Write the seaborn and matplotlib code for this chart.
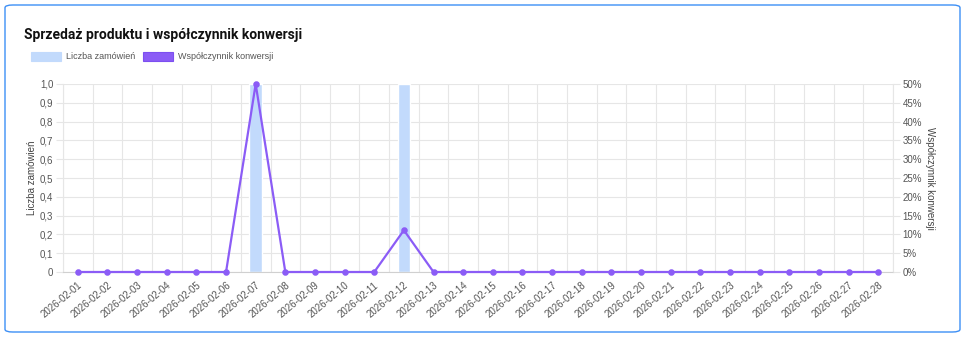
import matplotlib
matplotlib.use("Agg")
import matplotlib.pyplot as plt
import seaborn as sns
import numpy as np
from matplotlib.patches import FancyBboxPatch, Rectangle

dates = ['2026-02-01', '2026-02-02', '2026-02-03', '2026-02-04', '2026-02-05',
         '2026-02-06', '2026-02-07', '2026-02-08', '2026-02-09', '2026-02-10',
         '2026-02-11', '2026-02-12', '2026-02-13', '2026-02-14', '2026-02-15',
         '2026-02-16', '2026-02-17', '2026-02-18', '2026-02-19', '2026-02-20',
         '2026-02-21', '2026-02-22', '2026-02-23', '2026-02-24', '2026-02-25',
         '2026-02-26', '2026-02-27', '2026-02-28']
orders = [0, 0, 0, 0, 0, 0, 1, 0, 0, 0, 0, 1, 0, 0,
          0, 0, 0, 0, 0, 0, 0, 0, 0, 0, 0, 0, 0, 0]
conversion = [0, 0, 0, 0, 0, 0, 50.0, 0, 0, 0, 0, 11.11, 0, 0,
              0, 0, 0, 0, 0, 0, 0, 0, 0, 0, 0, 0, 0, 0]

left_ticks = [0, 0.1, 0.2, 0.3, 0.4, 0.5, 0.6, 0.7, 0.8, 0.9, 1.0]
left_labels = ['0', '0,1', '0,2', '0,3', '0,4', '0,5', '0,6', '0,7', '0,8', '0,9', '1,0']
right_ticks = [0, 5, 10, 15, 20, 25, 30, 35, 40, 45, 50]
right_labels = ['0%', '5%', '10%', '15%', '20%', '25%', '30%', '35%', '40%', '45%', '50%']

title = 'Sprzedaż produktu i współczynnik konwersji'
label_orders = 'Liczba zamówień'
label_conv = 'Współczynnik konwersji'

BAR_C = '#c2dafc'
LINE_C = '#8b5cf6'
GRID_C = '#e6e6e6'
TXT_C = '#555555'

sns.set_theme(style='white')
plt.rcParams['font.family'] = ['Liberation Sans', 'DejaVu Sans']

W, H = 965, 337
fig = plt.figure(figsize=(W / 100, H / 100), dpi=100)

def fx(px):
    return px / W

def fy(py):
    return 1 - py / H

# card
card = FancyBboxPatch((fx(5), fy(332)), fx(955), (327) / H,
                      boxstyle='round,pad=0,rounding_size=0.008',
                      transform=fig.transFigure, facecolor='white',
                      edgecolor='#3d8ff5', linewidth=1.0, zorder=0)
fig.add_artist(card)

ax = fig.add_axes([fx(63), fy(272), fx(893 - 63), (272 - 84) / H])
ax.set_facecolor('none')

sns.barplot(x=dates, y=orders, ax=ax, color=BAR_C, width=0.42,
            saturation=1, zorder=2)
ax.set_xlim(-0.5, len(dates) - 0.5)
ax.set_ylim(0, 1.0)
ax.set_yticks(left_ticks)
ax.set_yticklabels(left_labels)
ax.set_xticks(range(len(dates)))
ax.set_xticklabels(dates, rotation=40, ha='right', rotation_mode='anchor',
                   fontsize=7, color=TXT_C)
ax.set_xticks(np.arange(-0.5, len(dates), 1), minor=True)
ax.tick_params(axis='x', which='major', length=0, pad=6)
ax.tick_params(axis='x', which='minor', length=5, color=GRID_C, width=0.8)
ax.tick_params(axis='y', length=5, color=GRID_C, width=0.8, labelsize=7,
               labelcolor=TXT_C, pad=2)
ax.grid(False)
ax.grid(True, which='minor', axis='x', color=GRID_C, linewidth=0.8)
ax.grid(True, which='major', axis='y', color=GRID_C, linewidth=0.8)
ax.set_axisbelow(True)
ax.set_xlabel('')
ax.set_ylabel(label_orders, fontsize=7, color='#444444', labelpad=2)
for s in ['left', 'right', 'bottom']:
    ax.spines[s].set_color(GRID_C)
    ax.spines[s].set_linewidth(0.8)
ax.spines['bottom'].set_color('#d0d0d0')
ax.spines['top'].set_visible(False)

ax2 = ax.twinx()
sns.pointplot(x=dates, y=conversion, ax=ax2, color=LINE_C, markers='o',
              linestyles='-', markersize=3.5, linewidth=1.6, zorder=5)
ax2.set_xlim(-0.5, len(dates) - 0.5)
ax2.set_ylim(0, 50)
ax2.set_yticks(right_ticks)
ax2.set_yticklabels(right_labels)
ax2.tick_params(axis='y', length=5, color=GRID_C, width=0.8, labelsize=7,
                labelcolor=TXT_C, pad=2)
ax2.set_ylabel(label_conv, fontsize=7, color='#444444', rotation=270,
               labelpad=9)
ax2.grid(False)
for s in ax2.spines.values():
    s.set_visible(False)
for line in ax2.lines:
    line.set_clip_on(False)
for coll in ax2.collections:
    coll.set_clip_on(False)

# title
fig.text(fx(24), fy(35), title, fontsize=10, fontweight='bold',
         family=['Roboto', 'DejaVu Sans'],
         color='#111111', ha='left', va='center')

# legend
fig.add_artist(Rectangle((fx(31), fy(61)), fx(30), 9 / H,
                         transform=fig.transFigure, facecolor=BAR_C,
                         edgecolor=BAR_C, linewidth=0.8))
fig.text(fx(66), fy(56.5), label_orders, fontsize=6.5, color=TXT_C,
         ha='left', va='center')
fig.add_artist(Rectangle((fx(143), fy(61)), fx(30), 9 / H,
                         transform=fig.transFigure, facecolor=LINE_C,
                         edgecolor='#7c4ff0', linewidth=0.8))
fig.text(fx(178), fy(56.5), label_conv, fontsize=6.5, color=TXT_C,
         ha='left', va='center')

fig.savefig('out.png', dpi=100, facecolor='white')
